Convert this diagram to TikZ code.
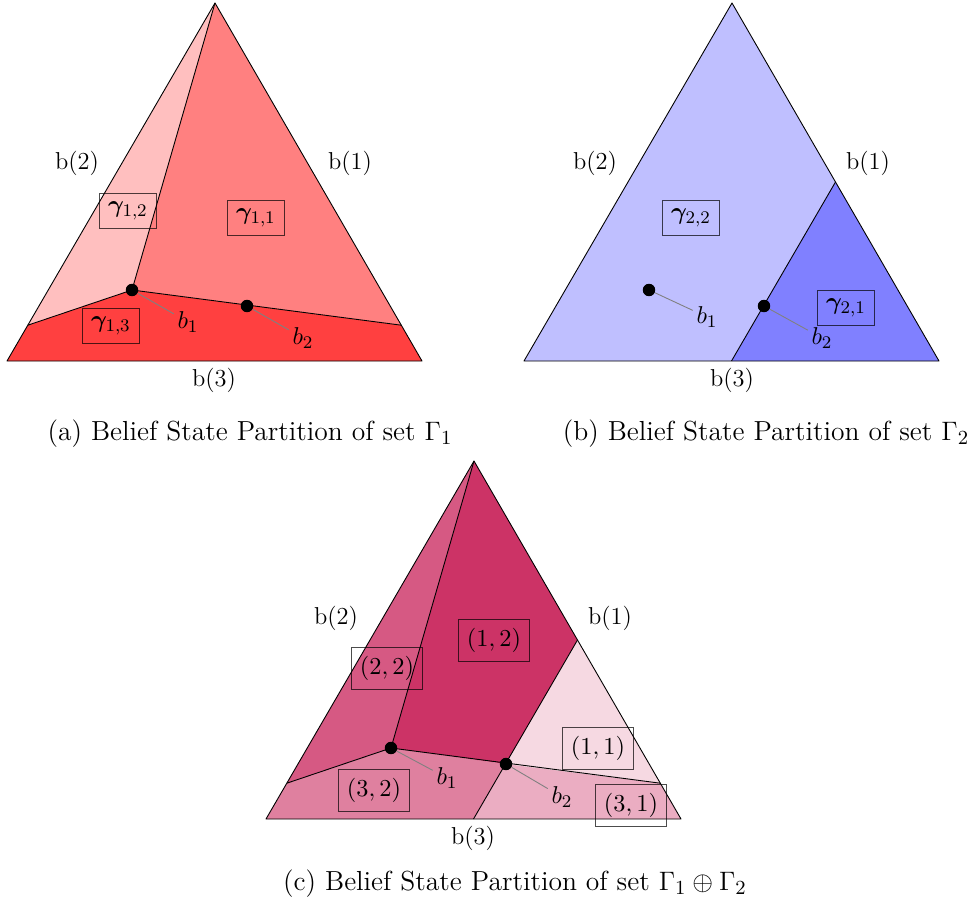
\documentclass[tikz,border=0pt]{standalone}
\usepackage{amsmath}
\usepackage{amssymb}
\usepackage{bm}
\usepackage{xcolor}
\usetikzlibrary{calc}

\begin{document}
\begin{tikzpicture}[
    x=0.45pt, y=-0.45pt,
    every node/.style={font=\fontsize{11}{13}\selectfont},
    edge/.style={draw=black, line join=round},
    setlabel/.style={rectangle, draw=black, draw opacity=0.7, inner sep=4pt},
    belief/.style={circle, fill=black, inner sep=0pt, minimum size=5.6pt},
    beliefname/.style={inner sep=1.5pt},
    pointer/.style={draw=gray, thin},
    caption/.style={font=\fontsize{12.4}{15}\selectfont}
]
    \useasboundingbox (0,0) rectangle (975,914);

    % (a) Partition of Gamma_1
    \begin{scope}
        \coordinate (aL) at (7,361);
        \coordinate (aR) at (422,361);
        \coordinate (aT) at (215,3);
        \coordinate (aB1) at (132,290);
        \coordinate (aB2) at (247,306);
        \coordinate (aPL) at ($(aL)!0.1!(aT)$);
        \coordinate (aPR) at ($(aR)!0.1!(aT)$);
        \fill[red!75] (aL) -- (aPL) -- (aB1) -- (aPR) -- (aR) -- cycle;
        \fill[red!25] (aT) -- (aPL) -- (aB1) -- cycle;
        \fill[red!50] (aT) -- (aB1) -- (aPR) -- cycle;
        \draw[edge] (aL) -- (aR) -- (aT) -- cycle;
        \draw[edge] (aPL) -- (aB1) -- (aT);
        \draw[edge] (aB1) -- (aPR);
        \node (ab2) at (77,163) {b(2)};
        \node (ab1) at (350,163) {b(1)};
        \node (ab3) at (214,380) {b(3)};
        \node[setlabel] (g12) at (128,211) {$\bm{\gamma}_{1,2}$};
        \node[setlabel] (g11) at (256,218) {$\bm{\gamma}_{1,1}$};
        \node[setlabel] (g13) at (111,326) {$\bm{\gamma}_{1,3}$};
        \node[belief] (aD1) at (aB1) {};
        \node[belief] (aD2) at (aB2) {};
        \node[beliefname] (aN1) at (188,322) {$b_1$};
        \node[beliefname] (aN2) at (303,338) {$b_2$};
        \draw[pointer] (aD1) -- (aN1);
        \draw[pointer] (aD2) -- (aN2);
        \node[caption] (capa) at (250,434) {(a) Belief State Partition of set $\Gamma_1$};
    \end{scope}

    % (b) Partition of Gamma_2
    \begin{scope}[shift={(517,0)}]
        \coordinate (bL) at (7,361);
        \coordinate (bR) at (422,361);
        \coordinate (bT) at (215,3);
        \coordinate (bB1) at (132,290);
        \coordinate (bB2) at (247,306);
        \coordinate (bPR) at ($(bR)!0.5!(bT)$);
        \coordinate (bPB) at ($(bL)!0.5!(bR)$);
        \fill[blue!25] (bL) -- (bPB) -- (bPR) -- (bT) -- cycle;
        \fill[blue!50] (bPB) -- (bR) -- (bPR) -- cycle;
        \draw[edge] (bL) -- (bR) -- (bT) -- cycle;
        \draw[edge] (bPB) -- (bPR);
        \node (bb2) at (78,163) {b(2)};
        \node (bb1) at (351,163) {b(1)};
        \node (bb3) at (215,380) {b(3)};
        \node[setlabel] (g22) at (174,218) {$\bm{\gamma}_{2,2}$};
        \node[setlabel] (g21) at (329,308) {$\bm{\gamma}_{2,1}$};
        \node[belief] (bD1) at (bB1) {};
        \node[belief] (bD2) at (bB2) {};
        \node[beliefname] (bN1) at (190,317) {$b_1$};
        \node[beliefname] (bN2) at (305,338) {$b_2$};
        \draw[pointer] (bD1) -- (bN1);
        \draw[pointer] (bD2) -- (bN2);
        \node[caption] (capb) at (249,434) {(b) Belief State Partition of set $\Gamma_2$};
    \end{scope}

    % (c) Partition of the cross-sum
    \begin{scope}[shift={(259,458)}]
        \coordinate (cL) at (7,361);
        \coordinate (cR) at (422,361);
        \coordinate (cT) at (215,3);
        \coordinate (cB1) at (132,290);
        \coordinate (cB2) at (247,306);
        \coordinate (cPL) at ($(cL)!0.1!(cT)$);
        \coordinate (cPR) at ($(cR)!0.1!(cT)$);
        \coordinate (cMR) at ($(cR)!0.5!(cT)$);
        \coordinate (cMB) at ($(cL)!0.5!(cR)$);
        \fill[purple!50] (cL) -- (cPL) -- (cB1) -- (cB2) -- (cMB) -- cycle;
        \fill[purple!32] (cMB) -- (cB2) -- (cPR) -- (cR) -- cycle;
        \fill[purple!65] (cT) -- (cPL) -- (cB1) -- cycle;
        \fill[purple!80] (cT) -- (cB1) -- (cB2) -- (cMR) -- cycle;
        \fill[purple!15] (cMR) -- (cB2) -- (cPR) -- cycle;
        \draw[edge] (cL) -- (cR) -- (cT) -- cycle;
        \draw[edge] (cPL) -- (cB1) -- (cT);
        \draw[edge] (cB1) -- (cPR);
        \draw[edge] (cMB) -- (cMR);
        \node (cb2) at (77,160) {b(2)};
        \node (cb1) at (351,160) {b(1)};
        \node (cb3) at (214,380) {b(3)};
        \node[setlabel] (s12) at (235,182) {$(1,2)$};
        \node[setlabel] (s22) at (128,210) {$(2,2)$};
        \node[setlabel] (s11) at (339,290) {$(1,1)$};
        \node[setlabel] (s32) at (115,332) {$(3,2)$};
        \node[setlabel] (s31) at (372,347) {$(3,1)$};
        \node[belief] (cD1) at (cB1) {};
        \node[belief] (cD2) at (cB2) {};
        \node[beliefname] (cN1) at (188,320) {$b_1$};
        \node[beliefname] (cN2) at (303,339) {$b_2$};
        \draw[pointer] (cD1) -- (cN1);
        \draw[pointer] (cD2) -- (cN2);
        \node[caption] (capc) at (256,426) {(c) Belief State Partition of set $\Gamma_1 \oplus \Gamma_2$};
    \end{scope}
\end{tikzpicture}
\end{document}
